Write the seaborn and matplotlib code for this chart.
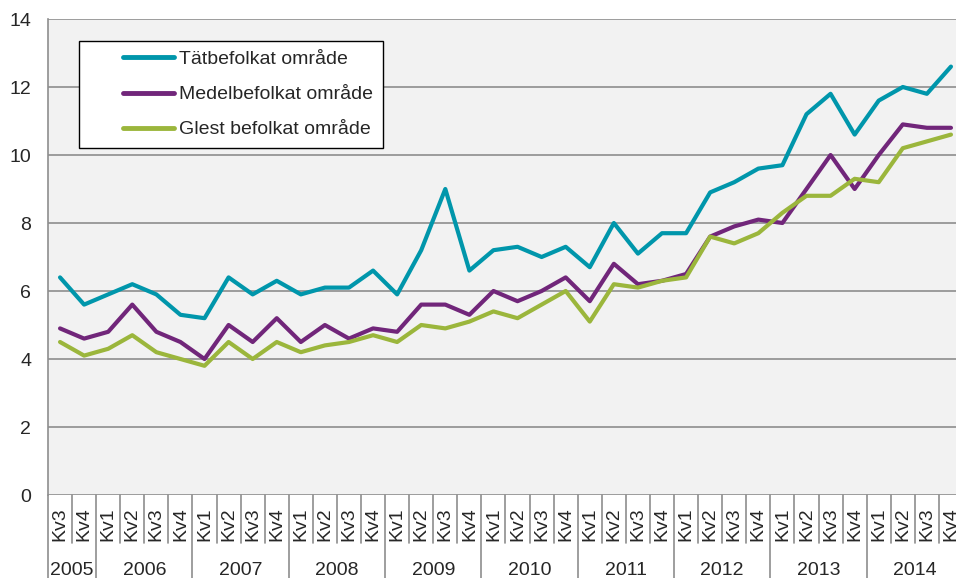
import pandas as pd
import seaborn as sns
import matplotlib.pyplot as plt
import matplotlib.transforms as mtransforms

# Data
years = ["2005", "2006", "2007", "2008", "2009", "2010", "2011", "2012", "2013", "2014"]
quarters = ["Kv3", "Kv4"] + ["Kv1", "Kv2", "Kv3", "Kv4"] * 9

tat = [6.4, 5.6, 5.9, 6.2, 5.9, 5.3, 5.2, 6.4, 5.9, 6.3, 5.9, 6.1, 6.1, 6.6, 5.9, 7.2, 9.0, 6.6, 7.2,
       7.3, 7.0, 7.3, 6.7, 8.0, 7.1, 7.7, 7.7, 8.9, 9.2, 9.6, 9.7, 11.2, 11.8, 10.6, 11.6, 12.0, 11.8, 12.6]
medel = [4.9, 4.6, 4.8, 5.6, 4.8, 4.5, 4.0, 5.0, 4.5, 5.2, 4.5, 5.0, 4.6, 4.9, 4.8, 5.6, 5.6, 5.3, 6.0,
         5.7, 6.0, 6.4, 5.7, 6.8, 6.2, 6.3, 6.5, 7.6, 7.9, 8.1, 8.0, 9.0, 10.0, 9.0, 10.0, 10.9, 10.8, 10.8]
glest = [4.5, 4.1, 4.3, 4.7, 4.2, 4.0, 3.8, 4.5, 4.0, 4.5, 4.2, 4.4, 4.5, 4.7, 4.5, 5.0, 4.9, 5.1, 5.4,
         5.2, 5.6, 6.0, 5.1, 6.2, 6.1, 6.3, 6.4, 7.6, 7.4, 7.7, 8.3, 8.8, 8.8, 9.3, 9.2, 10.2, 10.4, 10.6]

series = ["Tätbefolkat område", "Medelbefolkat område", "Glest befolkat område"]
colors = ["#0096AB", "#71267A", "#9BB63C"]

n = len(quarters)
df = pd.DataFrame({
    "idx": list(range(n)) * 3,
    "value": tat + medel + glest,
    "serie": [series[0]] * n + [series[1]] * n + [series[2]] * n,
})

sns.set_style("white")
plt.rcParams["font.family"] = ["Liberation Sans", "DejaVu Sans"]

fig = plt.figure(figsize=(9.56, 5.78), dpi=100)
ax = fig.add_axes([48 / 956, 1 - 495 / 578, 915 / 956, 476 / 578])
ax.set_facecolor("#F2F2F2")

sns.lineplot(data=df, x="idx", y="value", hue="serie", hue_order=series,
             palette=colors, linewidth=3, ax=ax, legend=True)

ax.set_xlim(-0.5, n - 0.5)
ax.set_ylim(0, 14)
ax.set_yticks(range(0, 15, 2))
ax.yaxis.grid(True, color="#8E8E8E", linewidth=1.2)
ax.set_axisbelow(True)
for s in ["top", "right", "bottom"]:
    ax.spines[s].set_visible(False)
ax.spines["left"].set_color("#8E8E8E")
ax.spines["left"].set_linewidth(1.2)
ax.tick_params(axis="y", length=6, width=1.2, color="#8E8E8E", labelsize=14, pad=6)
ax.set_xticks(range(n))
ax.set_xticklabels(quarters, rotation=90, fontsize=14)
ax.tick_params(axis="x", length=0, pad=9)
ax.set_xlabel("")
ax.set_ylabel("")

# separators below the axis
trans = mtransforms.blended_transform_factory(ax.transData, ax.transAxes)
year_edges = [-0.5, 1.5, 5.5, 9.5, 13.5, 17.5, 21.5, 25.5, 29.5, 33.5, 37.5]
for k in range(n + 1):
    xk = k - 0.5
    y_end = -0.175 if xk in year_edges else -0.1
    ax.plot([xk, xk], [0, y_end], color="#8E8E8E", linewidth=1.2,
            transform=trans, clip_on=False)
for i, yr in enumerate(years):
    ax.text((year_edges[i] + year_edges[i + 1]) / 2, -0.158, yr, transform=trans,
            ha="center", va="center", fontsize=14)

# legend: wide left padding before the short line handles
leg = ax.legend(loc="upper left", bbox_to_anchor=(0.034, 0.954), borderaxespad=0,
                fontsize=14, frameon=True, fancybox=False, edgecolor="black", framealpha=1,
                handlelength=4.4, handletextpad=0.25, labelspacing=0.9, borderpad=0.5)
leg.get_frame().set_linewidth(1)
for line in leg.get_lines():
    xd = line.get_xdata()
    yd = line.get_ydata()
    x0, x1 = xd[0], xd[-1]
    line.set_data([x0 + 0.40 * (x1 - x0), x1], [yd[0], yd[-1]])
    line.set_linewidth(3.5)
    line.set_solid_capstyle("round")

fig.savefig("out.png", dpi=100)
